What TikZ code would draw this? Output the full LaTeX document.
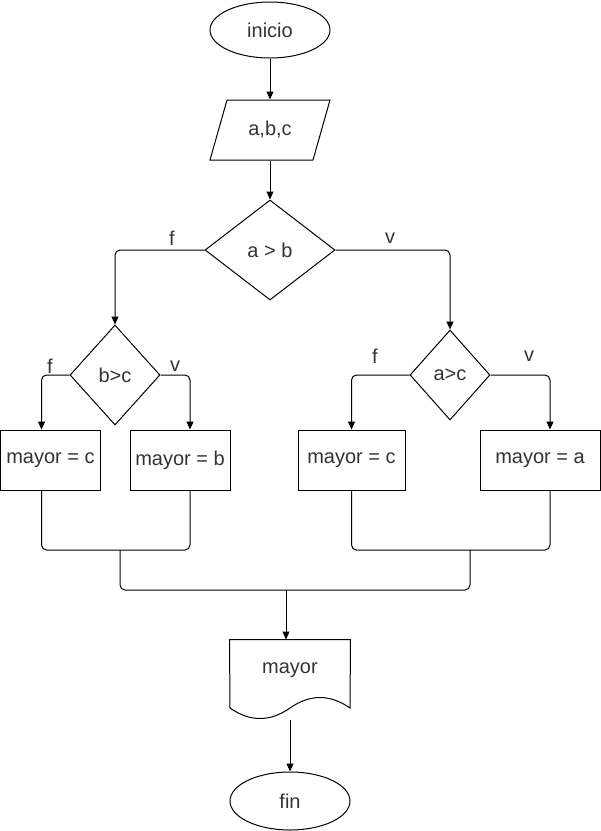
\documentclass[tikz,border=0pt]{standalone}
\usepackage{fontspec}
\setmainfont{Liberation Sans}
\usetikzlibrary{shapes.geometric,arrows.meta}

\begin{document}
\begin{tikzpicture}[x=1pt, y=-1pt, line width=1pt,
    every node/.style={font=\fontsize{20}{23}\selectfont, text=black!80},
    terminal/.style={ellipse, draw=black, minimum width=120pt, minimum height=56pt, inner sep=0pt},
    decision/.style={diamond, draw=black, inner sep=0pt},
    proceso/.style={rectangle, draw=black, minimum height=60pt, inner sep=0pt},
    etiqueta/.style={inner sep=0pt},
    flecha/.style={-{Triangle[length=8pt,width=7pt]}},
    linea/.style={rounded corners=5pt}]
    \useasboundingbox (0,0) rectangle (601,831);

    % Inicio y lectura
    \node[terminal] (inicio) at (270,30) {inicio};
    \node[rectangle, minimum width=120pt, minimum height=60pt, inner sep=0pt] (datos) at (270,130) {a,b,c};
    \draw (227,100) -- (330,100) -- (313,160) -- (210,160) -- cycle;

    % Primera decision
    \node[decision, minimum width=130pt, minimum height=100pt] (cond1) at (270,250) {a > b};
    \node[etiqueta] (f1) at (172,238) {f};
    \node[etiqueta] (v1) at (390,238) {v};

    % Rama falsa
    \node[decision, minimum width=90pt, minimum height=100pt] (cond2) at (115,375) {b>c};
    \node[etiqueta] (f2) at (50,366) {f};
    \node[etiqueta] (v2) at (175,366) {v};
    \node[proceso, minimum width=100pt] (may1) at (50.5,460) {mayor = c};
    \node[proceso, minimum width=100pt] (may2) at (180,460) {mayor = b};

    % Rama verdadera
    \node[decision, minimum width=80pt, minimum height=90pt] (cond3) at (450,375) {a>c};
    \node[etiqueta] (f3) at (375,356) {f};
    \node[etiqueta] (v3) at (529,356) {v};
    \node[proceso, minimum width=107pt] (may3) at (351.5,460) {mayor = c};
    \node[proceso, minimum width=120pt] (may4) at (540,460) {mayor = a};

    % Salida y fin
    \node[rectangle, minimum width=120pt, minimum height=60pt, inner sep=0pt] (doc) at (290,670) {mayor};
    \draw (doc.north west) -- (doc.north east) -- (350,708)
        .. controls (330,694) and (310,694) .. (290,708)
        .. controls (270,722) and (250,722) .. (230,708) -- cycle;
    \coordinate (docbot) at (290,720);
    \node[terminal, minimum height=58pt] (fin) at (290,801) {fin};

    % Conectores
    \draw[flecha] (inicio) -- (datos);
    \draw[flecha] (datos) -- (cond1);
    \draw[flecha, linea] (cond1.west) -| (cond2.north);
    \draw[flecha, linea] (cond1.east) -| (cond3.north);
    \draw[flecha, linea] (cond2.west) -| ([xshift=-9pt]may1.north);
    \draw[flecha, linea] (cond2.east) -| ([xshift=10pt]may2.north);
    \draw[flecha, linea] (cond3.west) -| (may3.north);
    \draw[flecha, linea] (cond3.east) -| ([xshift=10pt]may4.north);

    % Uniones
    \coordinate (unionIzq) at (120,550);
    \coordinate (unionDer) at (470,550);
    \coordinate (unionCen) at (286,590);
    \draw[linea] ([xshift=-9pt]may1.south) |- (unionIzq) -| ([xshift=10pt]may2.south);
    \draw[linea] (may3.south) |- (unionDer) -| ([xshift=10pt]may4.south);
    \draw[linea] (unionIzq) |- (unionCen) -| (unionDer);
    \draw[flecha] (unionCen) -- ([xshift=-4pt]doc.north);
    \draw[flecha] (docbot) -- (fin);
\end{tikzpicture}
\end{document}
